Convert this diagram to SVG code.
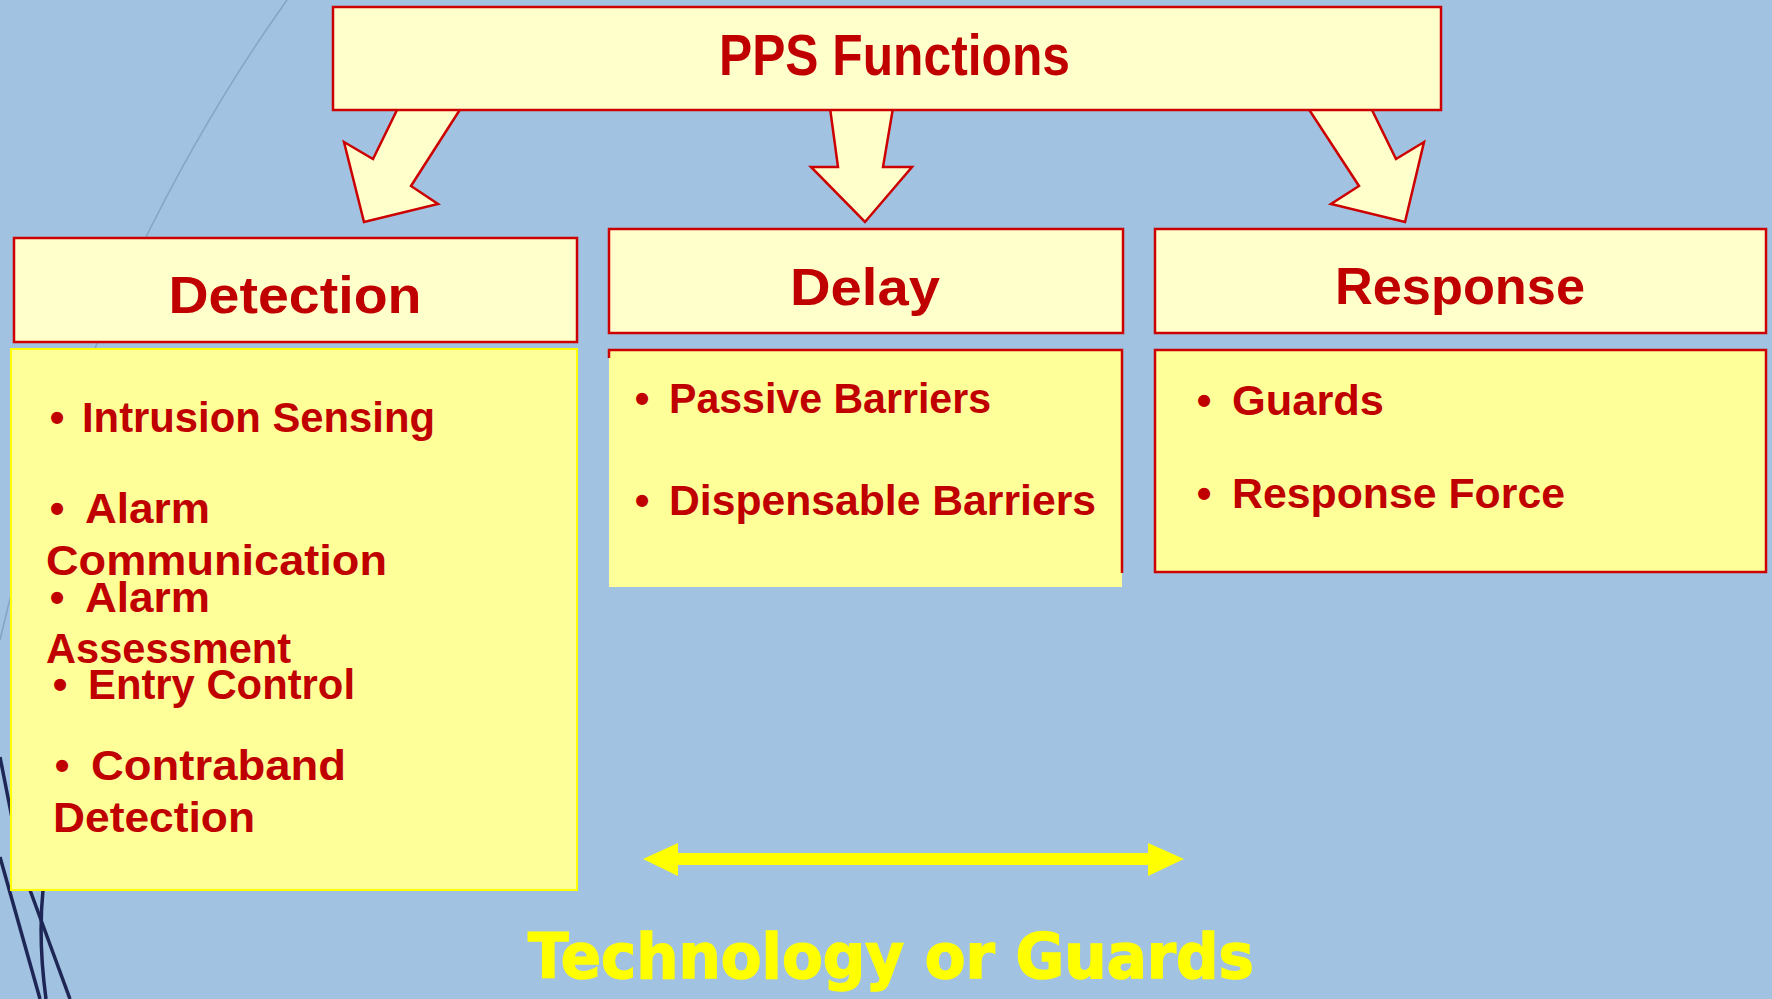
<svg xmlns="http://www.w3.org/2000/svg" width="1772" height="999" viewBox="0 0 1772 999">
  <style>
    .hdr { fill: #FFFFCC; stroke: #CC0000; stroke-width: 2.5; }
    .body { fill: #FFFF99; }
    .conn { fill: #FFFFCC; stroke: #CC0000; stroke-width: 2.5; stroke-linejoin: miter; }
    .title { font-family: "Liberation Sans", Arial, sans-serif; font-weight: bold; fill: #C00000; }
    .h { font-size: 52px; text-anchor: middle; }
    .item { font-size: 42px; }
    .bul { font-size: 42px; text-anchor: middle; }
    .deco-thin { fill: none; stroke: #88A4C4; stroke-width: 1.6; }
    .deco-dark { fill: none; stroke: #1E2656; stroke-width: 3.5; }
  </style>
  <rect x="0" y="0" width="1772" height="999" fill="#A1C3E1"/>
  <g id="background-lines">
    <path class="deco-thin" d="M287,0 C180,150 60,380 0,640"/>
    <path class="deco-dark" d="M0,757 L14,828"/>
    <path class="deco-dark" d="M0,857 L40,999"/>
    <path class="deco-dark" d="M30,890 L70,999"/>
    <path class="deco-dark" d="M43,890 Q38,940 46,999"/>
  </g>
  <g id="connectors">
    <polygon class="conn" points="398,108 461,108 411,186 438,204 364,222 344,142 373,159"/>
    <polygon class="conn" points="830,108 893,108 883,167 912,167 865,222 811,167 838,167"/>
    <polygon class="conn" points="1308,108 1371,108 1396,159 1424,142 1405,222 1331,204 1359,186"/>
  </g>
  <g id="pps-functions">
    <rect class="hdr" x="333" y="7" width="1108" height="103"/>
    <text class="title" x="719" y="75" font-size="58" textLength="351" lengthAdjust="spacingAndGlyphs">PPS Functions</text>
  </g>
  <g id="detection">
    <rect class="hdr" x="14" y="238" width="563" height="104"/>
    <text class="title h" x="295" y="313" textLength="253" lengthAdjust="spacingAndGlyphs">Detection</text>
    <rect class="body" x="11" y="349" width="566" height="541" stroke="#FFFF00" stroke-width="2"/>
    <text class="title bul" x="57" y="432">•</text>
    <text class="title item" x="82" y="432" textLength="353" lengthAdjust="spacingAndGlyphs">Intrusion Sensing</text>
    <text class="title bul" x="57" y="523">•</text>
    <text class="title item" x="85" y="523" textLength="125" lengthAdjust="spacingAndGlyphs">Alarm</text>
    <text class="title item" x="46" y="575" textLength="341" lengthAdjust="spacingAndGlyphs">Communication</text>
    <text class="title bul" x="57" y="612">•</text>
    <text class="title item" x="85" y="612" textLength="125" lengthAdjust="spacingAndGlyphs">Alarm</text>
    <text class="title item" x="46" y="663" textLength="245" lengthAdjust="spacingAndGlyphs">Assessment</text>
    <text class="title bul" x="60" y="699">•</text>
    <text class="title item" x="88" y="699" textLength="267" lengthAdjust="spacingAndGlyphs">Entry Control</text>
    <text class="title bul" x="62" y="780">•</text>
    <text class="title item" x="91" y="780" textLength="255" lengthAdjust="spacingAndGlyphs">Contraband</text>
    <text class="title item" x="53" y="832" textLength="202" lengthAdjust="spacingAndGlyphs">Detection</text>
  </g>
  <g id="delay">
    <rect class="hdr" x="609" y="229" width="514" height="104"/>
    <text class="title h" x="865" y="305" textLength="150" lengthAdjust="spacingAndGlyphs">Delay</text>
    <rect class="body" x="609" y="350" width="513" height="237"/>
    <path d="M609,358 L609,350 L1122,350 L1122,573" fill="none" stroke="#CC0000" stroke-width="2.5"/>
    <text class="title bul" x="642" y="413">•</text>
    <text class="title item" x="669" y="413" textLength="322" lengthAdjust="spacingAndGlyphs">Passive Barriers</text>
    <text class="title bul" x="642" y="515">•</text>
    <text class="title item" x="669" y="515" textLength="427" lengthAdjust="spacingAndGlyphs">Dispensable Barriers</text>
  </g>
  <g id="response">
    <rect class="hdr" x="1155" y="229" width="611" height="104"/>
    <text class="title h" x="1460" y="304" textLength="250" lengthAdjust="spacingAndGlyphs">Response</text>
    <rect class="body" x="1155" y="350" width="611" height="222" stroke="#CC0000" stroke-width="2.5"/>
    <text class="title bul" x="1204" y="415">•</text>
    <text class="title item" x="1232" y="415" textLength="152" lengthAdjust="spacingAndGlyphs">Guards</text>
    <text class="title bul" x="1204" y="508">•</text>
    <text class="title item" x="1232" y="508" textLength="333" lengthAdjust="spacingAndGlyphs">Response Force</text>
  </g>
  <g id="technology-or-guards">
    <polygon fill="#FFFF00" points="643,859 678,843 678,853 1148,853 1148,843 1184,859 1148,876 1148,865 678,865 678,876"/>
    <text x="528" y="978" font-family="'DejaVu Sans', Verdana, sans-serif" font-weight="bold" font-size="63" fill="#FFFF00" stroke="#FFFF00" stroke-width="1.5" textLength="726" lengthAdjust="spacingAndGlyphs">Technology or Guards</text>
  </g>
</svg>
